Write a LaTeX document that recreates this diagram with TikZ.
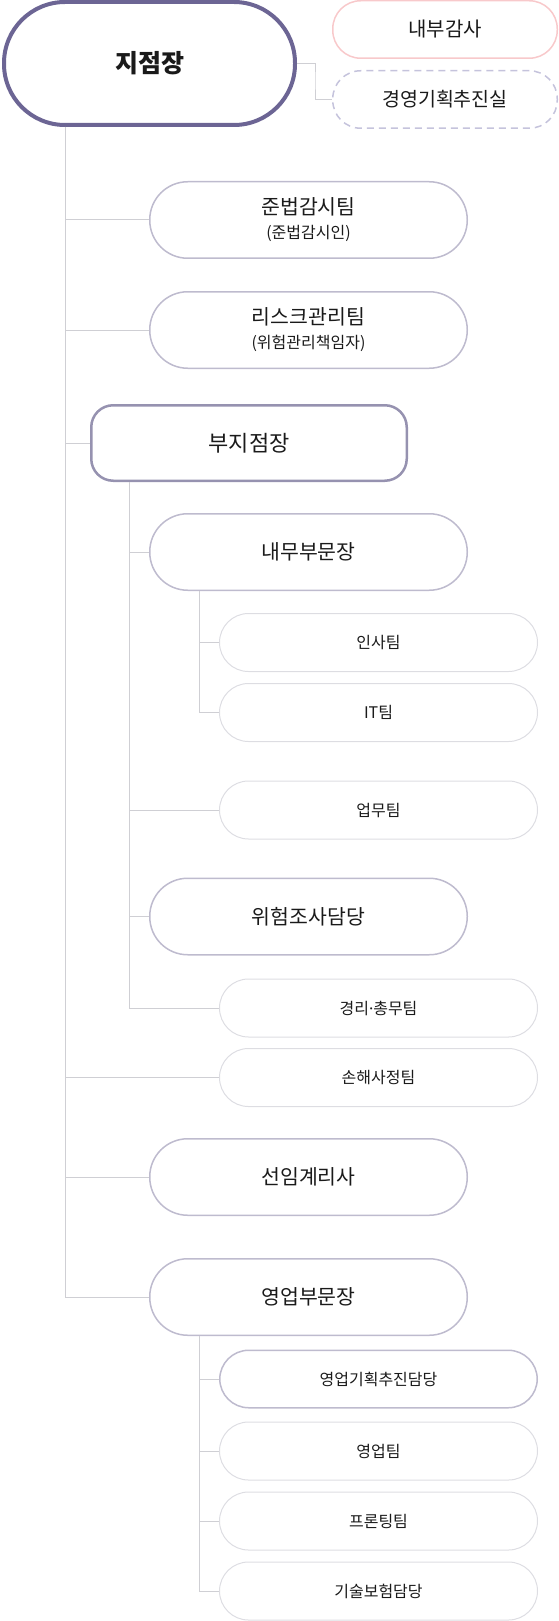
\documentclass[tikz,border=0pt]{standalone}
\usepackage{fontspec}
\setmainfont{Noto Sans CJK KR}
\newfontfamily\latinfont{Noto Sans}
\definecolor{rootc}{RGB}{108,101,148}
\definecolor{midc}{RGB}{190,187,206}
\definecolor{depc}{RGB}{150,146,176}
\definecolor{lightc}{RGB}{221,221,226}
\definecolor{connc}{RGB}{207,207,212}
\definecolor{pinkc}{RGB}{248,201,203}
\definecolor{dashc}{RGB}{197,195,220}
\definecolor{txtc}{RGB}{26,26,26}
\begin{document}
\begin{tikzpicture}[x=1pt,y=-1pt,
  every node/.style={text=txtc, inner sep=0pt, align=center},
  rootbox/.style={draw=rootc, line width=4pt, rounded corners=61pt, minimum width=291pt, minimum height=123pt, font=\bfseries\fontsize{25}{30}\selectfont},
  lvone/.style={draw=midc, line width=1.5pt, rounded corners=38pt, minimum width=317.5pt, minimum height=76.5pt, font=\fontsize{20.5}{25}\selectfont},
  depbox/.style={draw=depc, line width=2.5pt, rounded corners=22pt, minimum width=315.5pt, minimum height=75.5pt, font=\fontsize{22}{26}\selectfont},
  smallbox/.style={draw=lightc, line width=1pt, rounded corners=29pt, minimum width=318pt, minimum height=58pt, font=\fontsize{16}{20}\selectfont},
  smallmid/.style={smallbox, draw=midc, line width=1.5pt, minimum width=317.5pt, minimum height=57.5pt},
  auditbox/.style={draw=pinkc, line width=1.5pt, rounded corners=28pt, minimum width=224.5pt, minimum height=57.5pt, font=\fontsize{20}{24}\selectfont},
  planbox/.style={draw=dashc, line width=1.5pt, dash pattern=on 7pt off 5pt, rounded corners=28pt, minimum width=224.5pt, minimum height=57.5pt, font=\fontsize{19.5}{24}\selectfont},
  conn/.style={draw=connc, line width=1pt}
]
\useasboundingbox (0,0) rectangle (559,1621);

\node[rootbox] (root) at (149.5,63.5) {지점장};
\node[auditbox] (audit) at (445,29.5) {내부감사};
\node[planbox] (plan) at (445,99.5) {경영기획추진실};

\node[lvone] (comp) at (308.5,220) {준법감시팀\\[-1pt]{\fontsize{16}{20}\selectfont (준법감시인)}};
\node[lvone] (risk) at (308.5,330) {리스크관리팀\\[-1pt]{\fontsize{16}{20}\selectfont (위험관리책임자)}};
\node[depbox] (dep) at (249,443) {부지점장};
\node[lvone] (naemu) at (308.5,552) {내무부문장};
\node[smallbox] (insa) at (378.5,642.5) {인사팀};
\node[smallbox] (it) at (378.5,712.5) {IT팀};
\node[smallbox] (upmu) at (378.5,810) {업무팀};
\node[lvone] (wiheom) at (308.5,916.5) {위험조사담당};
\node[smallbox] (gyeongri) at (378.5,1008) {경리{\latinfont ·}총무팀};
\node[smallbox] (sonhae) at (378.5,1077.5) {손해사정팀};
\node[lvone] (seonim) at (308.5,1177) {선임계리사};
\node[lvone] (youngup) at (308.5,1297) {영업부문장};
\node[smallmid] (ygihoek) at (378.5,1379) {영업기획추진담당};
\node[smallbox] (yteam) at (378.5,1451) {영업팀};
\node[smallbox] (fronting) at (378.5,1521) {프론팅팀};
\node[smallbox] (gisul) at (378.5,1591) {기술보험담당};

\coordinate (t0) at (65.7,0);
\coordinate (t1) at (129.3,0);
\coordinate (t2) at (199.3,0);
\coordinate (tr) at (315,80);

% root to right side
\draw[conn] (root.east) -| (tr) |- (plan.west);

% main trunk
\foreach \c in {comp,risk,dep,sonhae,seonim,youngup}
  \draw[conn] (root.south -| t0) |- (\c.west);

% deputy trunk
\foreach \c in {naemu,upmu,wiheom,gyeongri}
  \draw[conn] (dep.south -| t1) |- (\c.west);

% naemu trunk
\foreach \c in {insa,it}
  \draw[conn] (naemu.south -| t2) |- (\c.west);

% youngup trunk
\foreach \c in {ygihoek,yteam,fronting,gisul}
  \draw[conn] (youngup.south -| t2) |- (\c.west);
\end{tikzpicture}
\end{document}
